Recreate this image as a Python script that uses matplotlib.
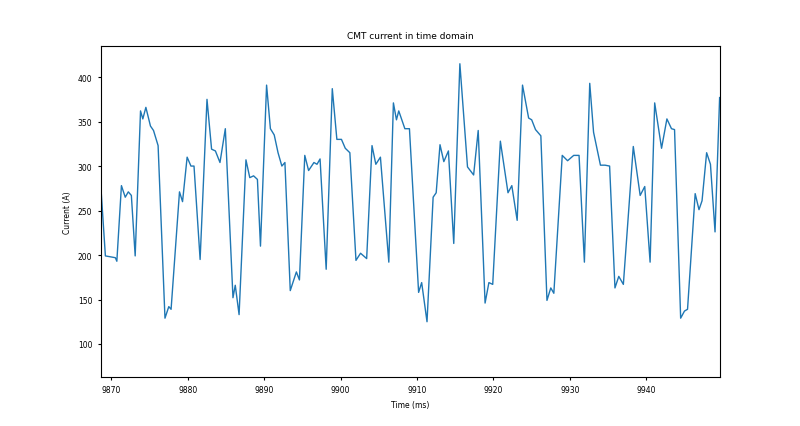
import matplotlib
matplotlib.use("Agg")
import matplotlib.pyplot as plt

time_ms = [9868.5, 9869.2, 9870.5, 9870.7, 9871.3, 9871.8, 9872.2, 9872.6, 9873.1, 9873.8, 9874.1, 9874.5,
           9875.1, 9875.5, 9876.1, 9877.0, 9877.5, 9877.8, 9878.9, 9879.3, 9879.9, 9880.4, 9880.8, 9881.6,
           9882.5, 9883.1, 9883.6, 9884.2, 9884.9, 9885.9, 9886.2, 9886.7, 9887.6, 9888.1, 9888.6, 9889.1,
           9889.5, 9890.3, 9890.8, 9891.3, 9891.8, 9892.3, 9892.7, 9893.4, 9894.2, 9894.6, 9895.3, 9895.8,
           9896.5, 9896.9, 9897.3, 9898.1, 9898.9, 9899.5, 9900.1, 9900.6, 9901.2, 9902.0, 9902.6, 9903.4,
           9904.1, 9904.6, 9905.2, 9906.3, 9906.9, 9907.3, 9907.6, 9908.4, 9909.0, 9910.2, 9910.6, 9911.3,
           9912.1, 9912.5, 9913.0, 9913.5, 9914.1, 9914.8, 9915.6, 9916.6, 9917.4, 9918.0, 9918.9, 9919.4,
           9919.9, 9920.9, 9921.9, 9922.4, 9923.1, 9923.8, 9924.6, 9925.0, 9925.5, 9926.2, 9927.0, 9927.5,
           9927.9, 9929.0, 9929.7, 9930.5, 9931.2, 9931.9, 9932.6, 9933.1, 9934.0, 9934.6, 9935.2, 9935.9,
           9936.4, 9937.0, 9938.3, 9939.2, 9939.8, 9940.5, 9941.1, 9942.0, 9942.7, 9943.3, 9943.7, 9944.5,
           9945.0, 9945.4, 9946.4, 9946.9, 9947.3, 9947.9, 9948.4, 9949.0, 9949.6]
current_a = [291, 199, 197, 193, 278, 265, 271, 267, 199, 362, 353, 366,
             345, 340, 323, 129, 142, 139, 271, 260, 310, 300, 300, 195,
             375, 319, 317, 304, 342, 152, 166, 133, 307, 287, 289, 285,
             210, 391, 342, 335, 315, 300, 304, 160, 181, 172, 312, 295,
             304, 302, 308, 184, 387, 330, 330, 320, 315, 194, 202, 196,
             323, 302, 310, 192, 371, 352, 362, 342, 342, 158, 169, 125,
             265, 270, 324, 305, 317, 213, 415, 299, 290, 340, 146, 169,
             167, 328, 270, 278, 239, 391, 354, 352, 341, 334, 149, 163,
             157, 312, 306, 312, 312, 192, 393, 338, 301, 301, 300, 163,
             176, 167, 322, 267, 277, 192, 371, 320, 353, 342, 341, 129,
             137, 139, 269, 251, 261, 315, 302, 226, 377]

fig, ax = plt.subplots(figsize=(8, 4.27), dpi=100)
fig.subplots_adjust(left=0.126, right=0.9, top=0.89, bottom=0.115)
ax.plot(time_ms, current_a, color="#1f77b4", linewidth=1.0)
ax.set_xlim(9868.6, 9949.65)
ax.set_ylim(63, 435)
ax.set_title("CMT current in time domain", fontsize=6.5)
ax.set_xlabel("Time (ms)", fontsize=5.5)
ax.set_ylabel("Current (A)", fontsize=5.5)
ax.tick_params(labelsize=5.5, length=2.5)
fig.savefig("out.png", dpi=100)
